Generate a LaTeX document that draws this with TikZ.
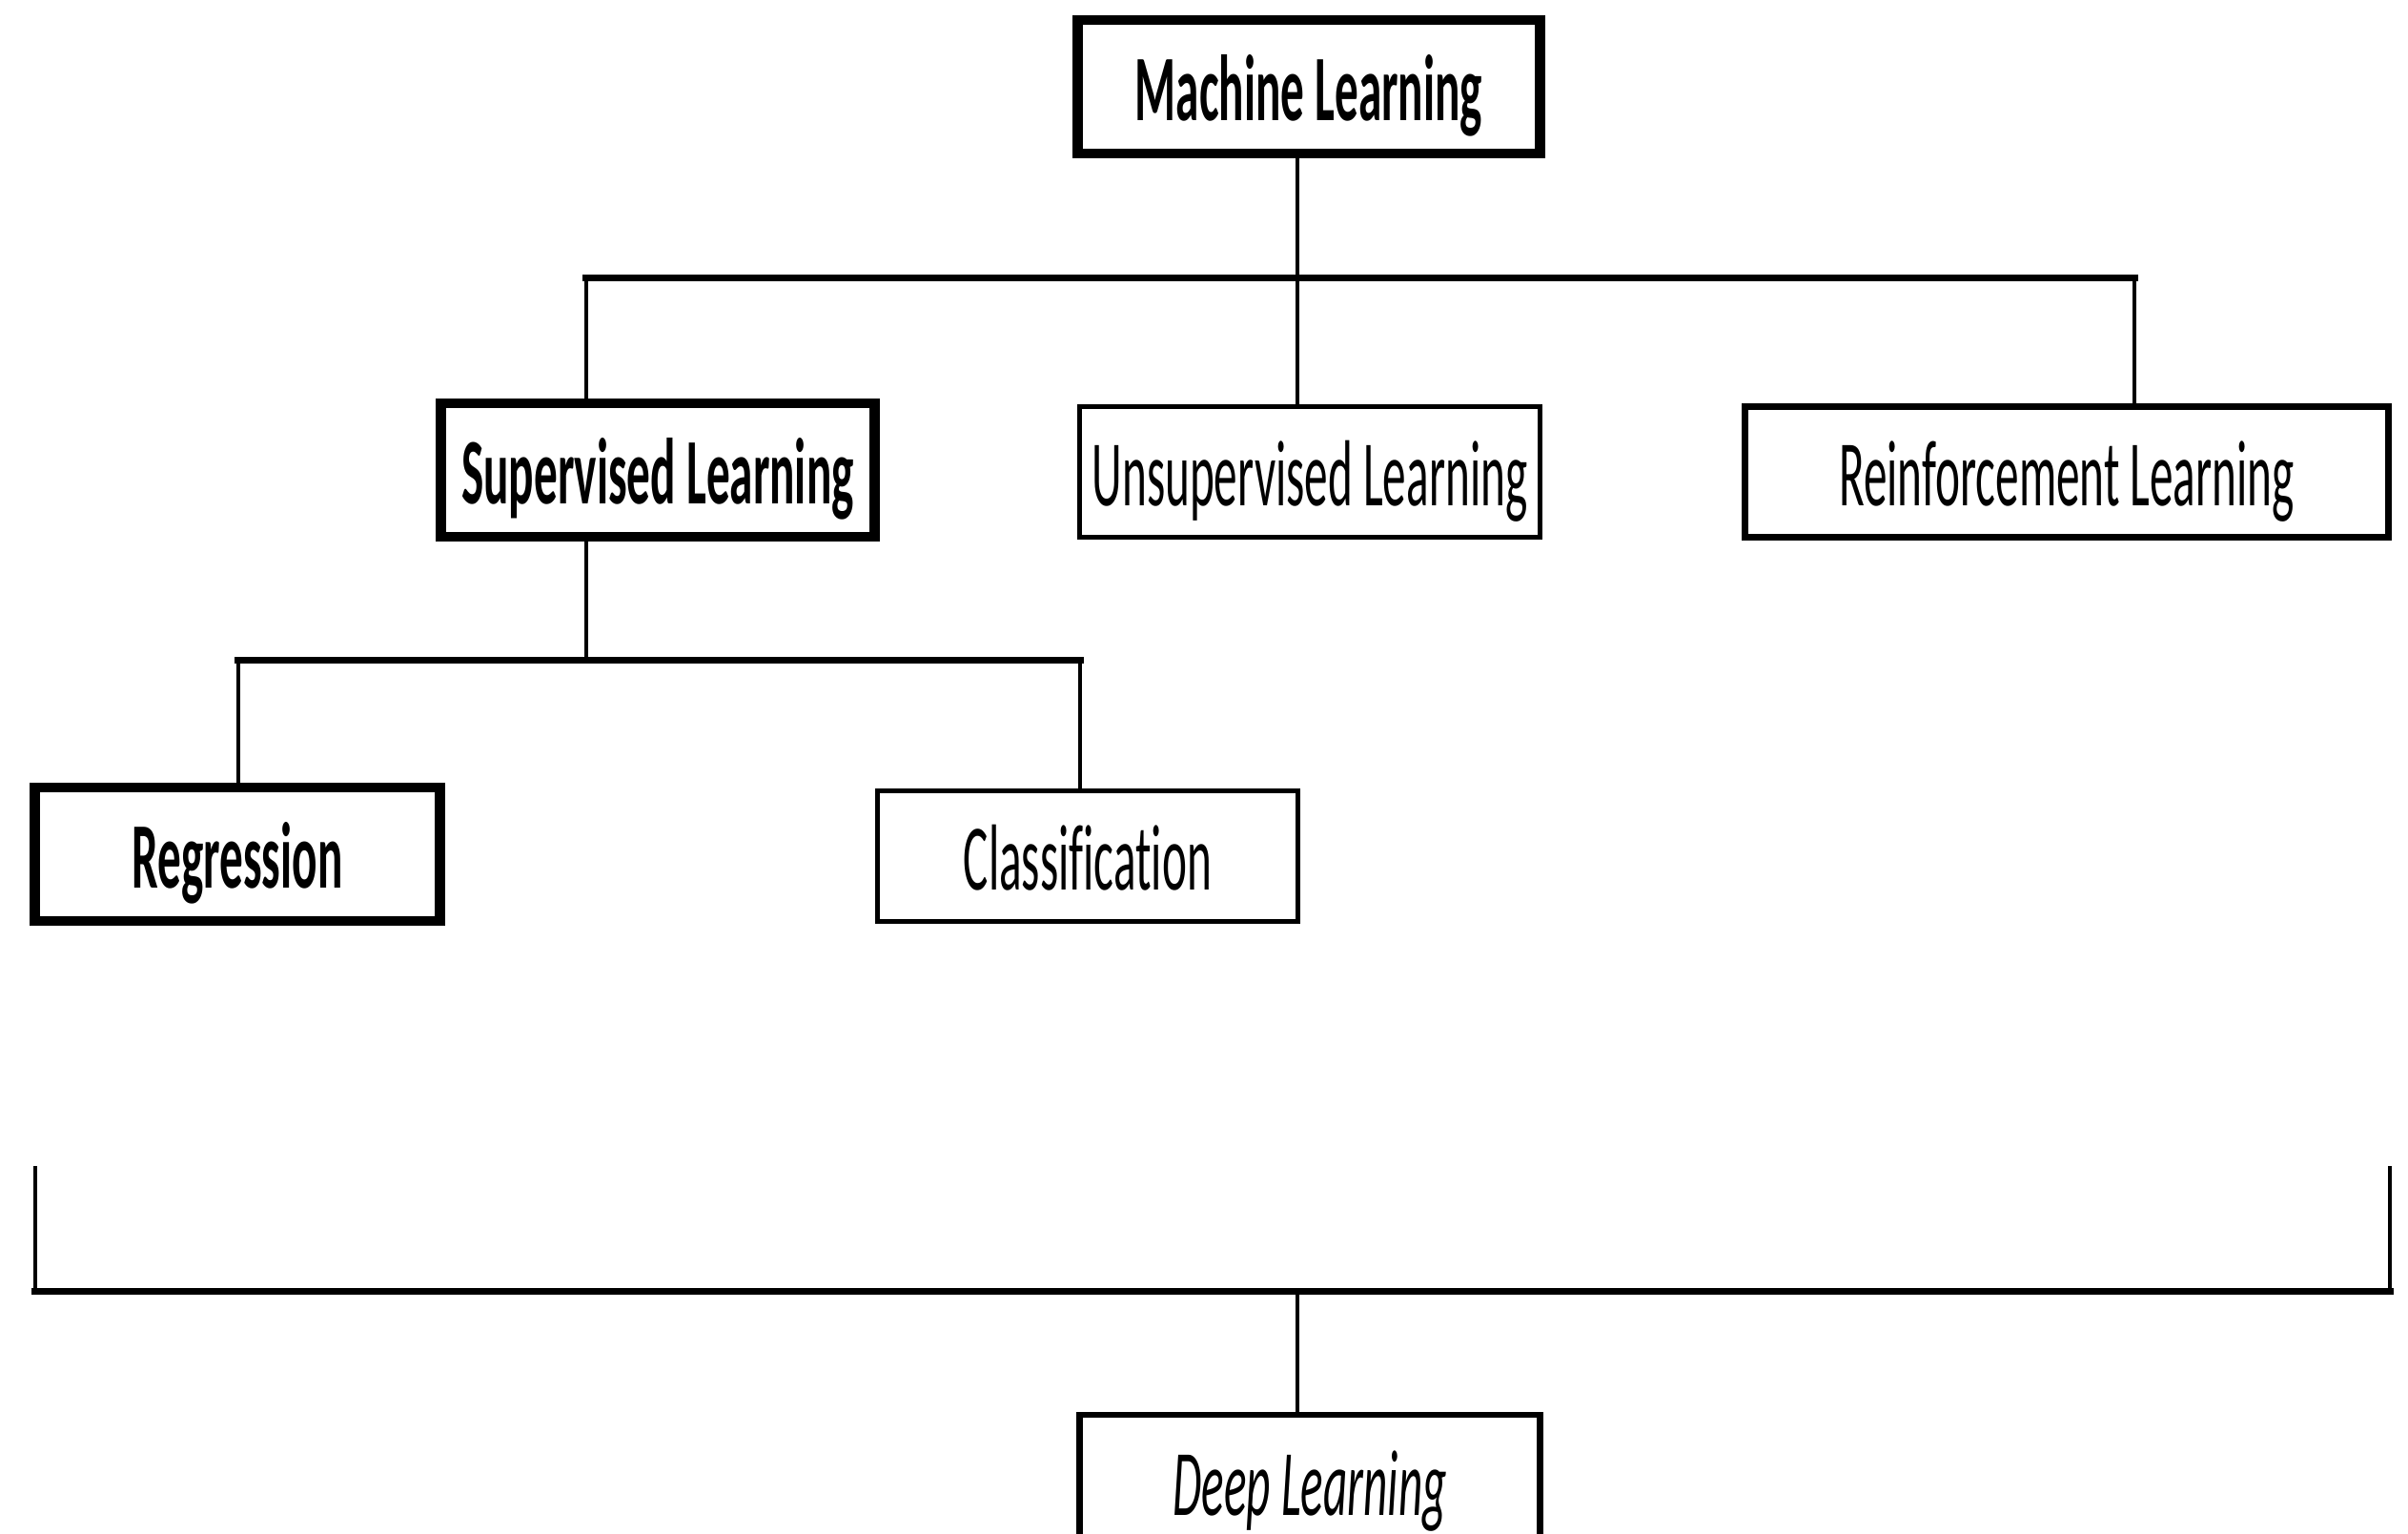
\documentclass[tikz,border=0pt]{standalone}
\usepackage{fontspec}
\setmainfont{Carlito}[FakeStretch=0.5, Ligatures=NoCommon]
\newcommand\mlfont{\fontsize{28}{34}\selectfont}
\tikzset{
	box/.style={draw, inner sep=0pt, minimum height=1.4cm, text height=0.95cm, text depth=0.23cm},
	heavy/.style={box, line width=3pt, font=\mlfont\bfseries},
	light/.style={box, line width=1.4pt, font=\mlfont},
	mid/.style={box, line width=1.8pt, font=\mlfont},
	hline/.style={line width=2pt, line cap=rect},
	vline/.style={line width=1.1pt},
}
\begin{document}
\begin{tikzpicture}[line join=miter]
	\useasboundingbox (0,0) rectangle (25.26,16.09);
	% Boxes
	\node[heavy, minimum width=4.85cm] (ml) at (13.73,15.18) {Machine Learning};
	\node[heavy, minimum width=4.55cm] (sup) at (6.90,11.16) {Supervised Learning};
	\node[light, minimum width=4.83cm, minimum height=1.37cm] (unsup) at (13.74,11.14) {Unsupervised Learning};
	\node[mid, minimum width=6.75cm, minimum height=1.37cm] (rein) at (21.68,11.14) {Reinforcement Learning};
	\node[heavy, minimum width=4.25cm] (reg) at (2.49,7.13) {Regression};
	\node[light, minimum width=4.41cm, minimum height=1.37cm] (cls) at (11.41,7.11) {Classification};
	\node[mid, minimum width=4.83cm, font=\mlfont\itshape] (deep) at (13.74,0.55) {Deep Learning};
	% Junctions
	\coordinate (j1) at (13.61,13.17);
	\coordinate (b1l) at (6.15,13.17);
	\coordinate (b1r) at (22.39,13.17);
	\coordinate (j2) at (6.15,9.16);
	\coordinate (b2l) at (2.50,9.16);
	\coordinate (b2r) at (11.33,9.16);
	\coordinate (dl) at (0.37,3.86);
	\coordinate (dlb) at (0.37,2.54);
	\coordinate (dr) at (25.07,3.86);
	\coordinate (drb) at (25.07,2.54);
	\coordinate (dm) at (13.61,2.54);
	% Connectors
	\draw[vline] (ml.south -| j1) -- (j1);
	\draw[hline] (b1l) -- (b1r);
	\draw[vline] (b1l) -- (b1l |- sup.north);
	\draw[vline] (j1) -- (j1 |- unsup.north);
	\draw[vline] (b1r) -- (b1r |- rein.north);
	\draw[vline] (sup.south -| j2) -- (j2);
	\draw[hline] (b2l) -- (b2r);
	\draw[vline] (b2l) -- (b2l |- reg.north);
	\draw[vline] (b2r) -- (b2r |- cls.north);
	\draw[vline] (dl) -- (dlb);
	\draw[hline] (dlb) -- (drb);
	\draw[vline] (drb) -- (dr);
	\draw[vline] (dm) -- (dm |- deep.north);
\end{tikzpicture}
\end{document}
